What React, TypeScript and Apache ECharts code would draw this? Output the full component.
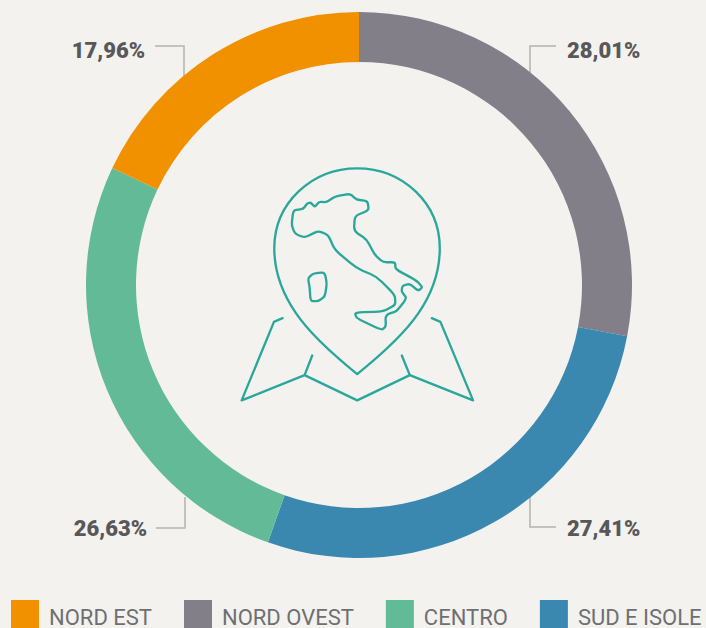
import React, { useEffect, useRef } from "react";
import * as echarts from "echarts";

const categories = ["NORD OVEST", "SUD E ISOLE", "CENTRO", "NORD EST"];
const values = [28.01, 27.41, 26.63, 17.96];
const colors = ["#827f88", "#3a88b0", "#62bb96", "#f29100"];
const legendOrder = ["NORD EST", "NORD OVEST", "CENTRO", "SUD E ISOLE"];

// Label placement for each slice: anchor of text and elbow of leader line
const labelPlacement = [
  { x: 567, y: 50, align: "left", line: [[556, 46], [530, 46], [530, 76]] },
  { x: 567, y: 528, align: "left", line: [[556, 527], [530, 527], [530, 497]] },
  { x: 147, y: 528, align: "right", line: [[156, 528], [185, 528], [185, 497]] },
  { x: 145, y: 50, align: "right", line: [[155, 46], [184, 46], [184, 76]] },
];

const italyOutline: number[][] = [
  [220, 181], [250, 177], [262, 160], [272, 158], [285, 171], [298, 155], [320, 157], [345, 140],
  [390, 131], [410, 149], [443, 153], [447, 181], [405, 198], [402, 243], [440, 268], [465, 315],
  [490, 337], [526, 337], [527, 358], [590, 392], [608, 412], [595, 423], [570, 402], [548, 407],
  [545, 425], [561, 445], [530, 485], [505, 492], [497, 502], [498, 530], [485, 541], [410, 505],
  [405, 488], [490, 485], [527, 465], [525, 435], [470, 380], [410, 355], [345, 300], [325, 255],
  [295, 243], [255, 263], [225, 252], [215, 225],
];
const sardiniaOutline: number[][] = [
  [264, 385], [280, 371], [314, 367], [321, 400], [315, 440], [295, 454], [272, 454], [269, 410],
];

// Rounds each corner of a closed outline while keeping most of its straight runs
const roundedClosed = (pts: number[][]) => {
  const lerp = (a: number[], b: number[], t: number) => [a[0] + (b[0] - a[0]) * t, a[1] + (b[1] - a[1]) * t];
  const n = pts.length;
  const start = lerp(pts[n - 1], pts[0], 0.7);
  let d = `M${start[0]} ${start[1]}`;
  pts.forEach((p, i) => {
    const next = pts[(i + 1) % n];
    const out = lerp(p, next, 0.3);
    const inn = lerp(p, next, 0.7);
    d += ` Q${p[0]} ${p[1]} ${out[0]} ${out[1]} L${inn[0]} ${inn[1]}`;
  });
  return d + " Z";
};

const pinPath =
  "M412 673 C340 615 272 555 228 490 C187 430 163 365 163 295 C163 160 275 55 412 55 C549 55 660 160 660 295 C660 365 637 430 596 490 C552 555 484 615 412 673 Z";
const mapPath =
  "M188 505 L162 516 L65 752 L254 676 L412 752 L570 676 L760 752 L662 516 L636 505 M254 676 L277 617 M570 676 L546 617";

echarts.graphic.registerShape("pinIcon", echarts.graphic.extendPath(pinPath, {}));
echarts.graphic.registerShape("mapIcon", echarts.graphic.extendPath(mapPath, {}));
echarts.graphic.registerShape("italyIcon", echarts.graphic.extendPath(roundedClosed(italyOutline), {}));
echarts.graphic.registerShape("sardiniaIcon", echarts.graphic.extendPath(roundedClosed(sardiniaOutline), {}));

const iconStyle = { fill: "none", stroke: "#2aa79b", lineWidth: 7, lineJoin: "round", lineCap: "round" };

export default function App() {
  const ref = useRef<HTMLDivElement>(null);
  useEffect(() => {
    const chart = echarts.init(ref.current!, undefined, { renderer: "svg" });
    chart.setOption({
      animation: false,
      backgroundColor: "#f3f2ee",
      color: colors,
      legend: {
        data: legendOrder.map((name) => ({ name, icon: "rect" })),
        left: 11,
        top: 600,
        width: 695,
        padding: 0,
        itemWidth: 28,
        itemHeight: 28,
        itemGap: 32,
        selectedMode: false,
        formatter: (name: string) => `{t|${name}}`,
        textStyle: {
          rich: {
            t: {
              color: "#6f6f72",
              fontFamily: "Roboto, sans-serif",
              fontSize: 22,
              height: 22,
              padding: [6, 0, 0, 5],
            },
          },
        },
      },
      graphic: [
        {
          type: "group",
          x: 220,
          y: 150,
          scaleX: 1 / 3,
          scaleY: 1 / 3,
          silent: true,
          children: [
            { type: "pinIcon", style: iconStyle },
            { type: "mapIcon", style: iconStyle },
            { type: "italyIcon", style: iconStyle },
            { type: "sardiniaIcon", style: iconStyle },
          ],
        },
      ],
      series: [
        {
          type: "pie",
          center: [359, 285],
          radius: [223, 273],
          startAngle: 90,
          clockwise: true,
          silent: true,
          data: categories.map((name, i) => ({ name, value: values[i] })),
          emphasis: { disabled: true },
          label: {
            show: true,
            formatter: (p: any) => p.value.toFixed(2).replace(".", ",") + "%",
            color: "#58585a",
            fontFamily: "Roboto, sans-serif",
            fontWeight: 900,
            fontSize: 22,
            overflow: "none",
            width: 90,
          },
          labelLine: { show: true, lineStyle: { color: "#b5b3ae", width: 1.5 } },
          labelLayout: (p: any) => {
            const l = labelPlacement[p.dataIndex];
            return { x: l.x, y: l.y, align: l.align, verticalAlign: "middle", labelLinePoints: l.line };
          },
        },
      ],
    });
    return () => chart.dispose();
  }, []);
  return (
    <div
      ref={ref}
      style={{ position: "absolute", left: 0, top: 0, width: 706, height: 628 }}
    />
  );
}
